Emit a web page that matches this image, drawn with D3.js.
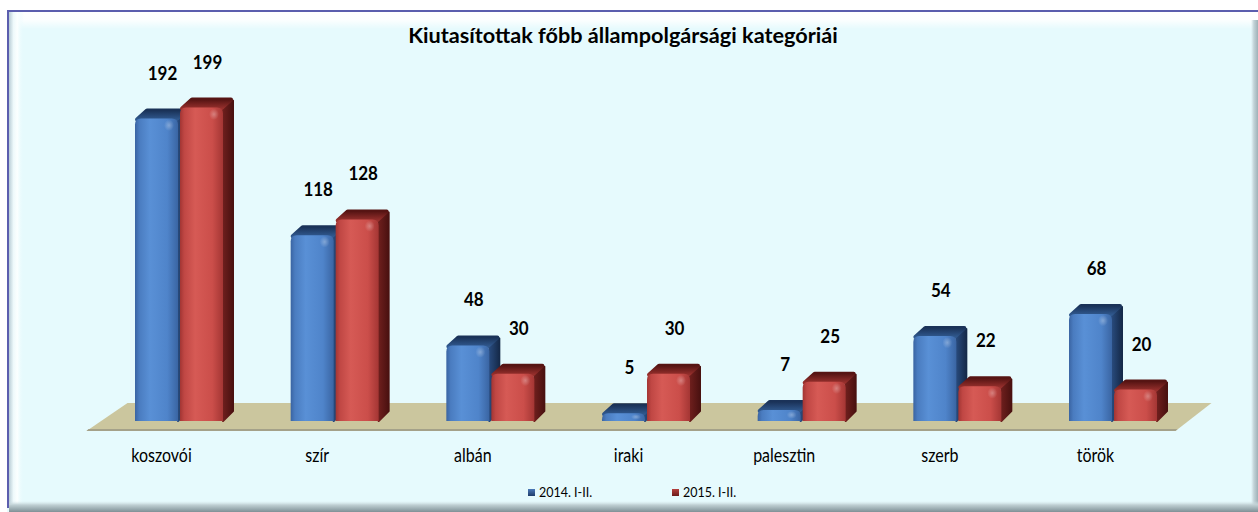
<!DOCTYPE html>
<html>
<head>
<meta charset="utf-8">
<script src="https://cdn.jsdelivr.net/npm/d3@7"></script>
<style>
  body { margin: 0; background: #ffffff; }
  svg { display: block; }
</style>
</head>
<body>
<svg id="chart" width="1258" height="512"></svg>
<script>
// ---- data ----
const categories = ["koszovói", "szír", "albán", "iraki", "palesztin", "szerb", "török"];
const values2014 = [192, 118, 48, 5, 7, 54, 68];
const values2015 = [199, 128, 30, 30, 25, 22, 20];
const seriesNames = ["2014. I-II.", "2015. I-II."];
const chartTitle = "Kiutasítottak főbb állampolgársági kategóriái";

// ---- layout ----
const W = 1258, H = 512;
const floorY = 421;          // where the bar fronts stand
const barW = 43;             // front face width
const depthX = 10, depthY = 10;
const fontFamily = "Lato, 'Open Sans', 'DejaVu Sans', sans-serif";

const svg = d3.select("#chart");
const defs = svg.append("defs");

const x = d3.scalePoint().domain(categories).range([178.5, 1112.5]);
const y = d3.scaleLinear().domain([0, 200]).range([floorY, floorY - 315]);

function linGrad(id, stops, vertical) {
  const g = defs.append("linearGradient").attr("id", id)
    .attr("x1", 0).attr("y1", 0)
    .attr("x2", vertical ? 0 : 1).attr("y2", vertical ? 1 : 0);
  stops.forEach(([o, c, a]) => g.append("stop").attr("offset", o)
    .attr("stop-color", c).attr("stop-opacity", a == null ? 1 : a));
  return `url(#${id})`;
}

// ---- frame ----
svg.append("rect").attr("x", 7).attr("y", 10).attr("width", W - 7).attr("height", H - 10)
  .attr("fill", "#e6fafd");
svg.append("rect").attr("x", 9).attr("y", 12).attr("width", W - 9).attr("height", 17)
  .attr("fill", linGrad("bevelTop", [[0, "#ffffff", 1], [0.45, "#ffffff", 0.9], [1, "#ffffff", 0]], true));
svg.append("rect").attr("x", 9).attr("y", 12).attr("width", 15).attr("height", H - 20)
  .attr("fill", linGrad("bevelLeft", [[0, "#b9cdd6", 1], [0.3, "#eef9fb", 1], [0.55, "#fbffff", 1], [1, "#e6fafd", 0]], false));
svg.append("rect").attr("x", W - 7).attr("y", 20).attr("width", 7).attr("height", H - 20)
  .attr("fill", linGrad("shadowRight", [[0, "#c8d8dc", 0], [0.4, "#c3d3d8", 1], [1, "#9fb1b7", 1]], false));
svg.append("rect").attr("x", 9).attr("y", H - 11).attr("width", W - 9).attr("height", 11)
  .attr("fill", linGrad("shadowBottom", [[0, "#d5e5e8", 0], [0.35, "#c0d0d4", 1], [1, "#7f9096", 1]], true));
svg.append("rect").attr("x", 7).attr("y", 10).attr("width", W - 7).attr("height", 2).attr("fill", "#5b5eae");
svg.append("rect").attr("x", 7).attr("y", 10).attr("width", 2).attr("height", H - 14).attr("fill", "#5b5eae");

// ---- title ----
const titleText = svg.append("text")
  .attr("x", 623).attr("y", 43)
  .attr("text-anchor", "middle")
  .attr("font-family", fontFamily).attr("font-weight", 700)
  .attr("font-size", 18).attr("fill", "#000")
  .text(chartTitle);
// keep the title to its intended width
const tl = titleText.node().getComputedTextLength();
titleText.attr("font-size", 18 * 430 / tl);

// ---- floor ----
const c0 = x(categories[0]), cN = x(categories[categories.length - 1]);
const floorTop = 403, floorBottom = 431;
svg.append("path")
  .attr("d", `M${c0 - 51},${floorTop} L${cN + 99},${floorTop} L${cN + 63},${floorBottom} L${c0 - 92},${floorBottom} Z`)
  .attr("fill", "#cbc69e");
svg.append("path")
  .attr("d", `M${c0 - 90},${floorBottom - 2} L${cN + 65},${floorBottom - 2} L${cN + 63},${floorBottom} L${c0 - 92},${floorBottom} Z`)
  .attr("fill", "#a4a189");

// ---- bar styles ----
const styles = [
  {
    front: linGrad("frontBlue", [[0, "#3a64a2"], [0.1, "#4a7cc0"], [0.35, "#5990d6"], [0.75, "#4f84ca"], [1, "#3a65a3"]], false),
    top: linGrad("topBlue", [[0, "#1a3258"], [1, "#30598f"]], true),
    side: linGrad("sideBlue", [[0, "#284a7c"], [1, "#152a4a"]], false)
  },
  {
    front: linGrad("frontRed", [[0, "#a23533"], [0.1, "#c04744"], [0.35, "#d65a55"], [0.75, "#cb4e4a"], [1, "#a43634"]], false),
    top: linGrad("topRed", [[0, "#561413"], [1, "#98302d"]], true),
    side: linGrad("sideRed", [[0, "#6e1f1d"], [1, "#4a1110"]], false)
  }
];
const shine = defs.append("radialGradient").attr("id", "shine");
shine.append("stop").attr("offset", 0).attr("stop-color", "#ffffff").attr("stop-opacity", 0.3);
shine.append("stop").attr("offset", 1).attr("stop-color", "#ffffff").attr("stop-opacity", 0);

function drawBar(g, x0, v, st) {
  const t = y(v), b = floorY, w = barW, r = 6;
  // side face
  g.append("path")
    .attr("d", `M${x0 + w},${t + 2} L${x0 + w + depthX},${t - depthY + 3} L${x0 + w + depthX},${b - depthY} L${x0 + w},${b} Z`)
    .attr("fill", st.side).attr("stroke", st.side).attr("stroke-width", 2).attr("stroke-linejoin", "round");
  // top face
  g.append("path")
    .attr("d", `M${x0 + 2},${t + 1} L${x0 + depthX + 2},${t - depthY + 2} L${x0 + w + depthX - 2},${t - depthY + 2} L${x0 + w - 2},${t + 1} Z`)
    .attr("fill", st.top).attr("stroke", st.top).attr("stroke-width", 4).attr("stroke-linejoin", "round");
  // front face with rounded upper corners
  g.append("path")
    .attr("d", `M${x0},${b} L${x0},${t + r} Q${x0},${t} ${x0 + r},${t} L${x0 + w - r},${t} Q${x0 + w},${t} ${x0 + w},${t + r} L${x0 + w},${b} Z`)
    .attr("fill", st.front);
  // soft highlight near the upper right
  const hh = Math.min(8, (b - t) / 2);
  g.append("ellipse")
    .attr("cx", x0 + w - 9).attr("cy", t + hh / 1.4 + 1)
    .attr("rx", 5).attr("ry", Math.max(2, hh / 1.4))
    .attr("fill", "url(#shine)");
}

const bars = svg.append("g");
categories.forEach((c, i) => {
  const cx = x(c);
  drawBar(bars.append("g"), cx - 43.5, values2014[i], styles[0]);
  drawBar(bars.append("g"), cx + 1.5, values2015[i], styles[1]);
});

// ---- value labels ----
const labels = svg.append("g")
  .attr("font-family", fontFamily).attr("font-weight", 700)
  .attr("font-size", 17).attr("fill", "#000").attr("text-anchor", "middle");
categories.forEach((c, i) => {
  const cx = x(c);
  [[values2014[i], cx - 22 + 6], [values2015[i], cx + 23 + 6]].forEach(([v, lx]) => {
    labels.append("text")
      .attr("transform", `translate(${lx},${y(v) - 45 + 6}) scale(1,1.1)`)
      .text(v);
  });
});

// ---- category labels ----
svg.append("g")
  .attr("font-family", fontFamily).attr("font-size", 16).attr("fill", "#000")
  .attr("text-anchor", "middle")
  .selectAll("text").data(categories).join("text")
  .attr("transform", d => `translate(${x(d) - 17},462) scale(1,1.22)`)
  .text(d => d);

// ---- legend ----
const legendColors = [
  linGrad("legBlue", [[0, "#4a78b8"], [1, "#1f3c6a"]], true),
  linGrad("legRed", [[0, "#b5403d"], [1, "#6a1b1a"]], true)
];
const legend = svg.append("g").attr("font-family", fontFamily).attr("font-size", 12.5).attr("fill", "#000");
seriesNames.forEach((name, i) => {
  const lx = 528 + i * 144;
  legend.append("rect").attr("x", lx).attr("y", 489).attr("width", 7).attr("height", 7)
    .attr("fill", legendColors[i]);
  legend.append("text").attr("transform", `translate(${lx + 11},497) scale(1,1.1)`).text(name);
});
</script>
</body>
</html>
